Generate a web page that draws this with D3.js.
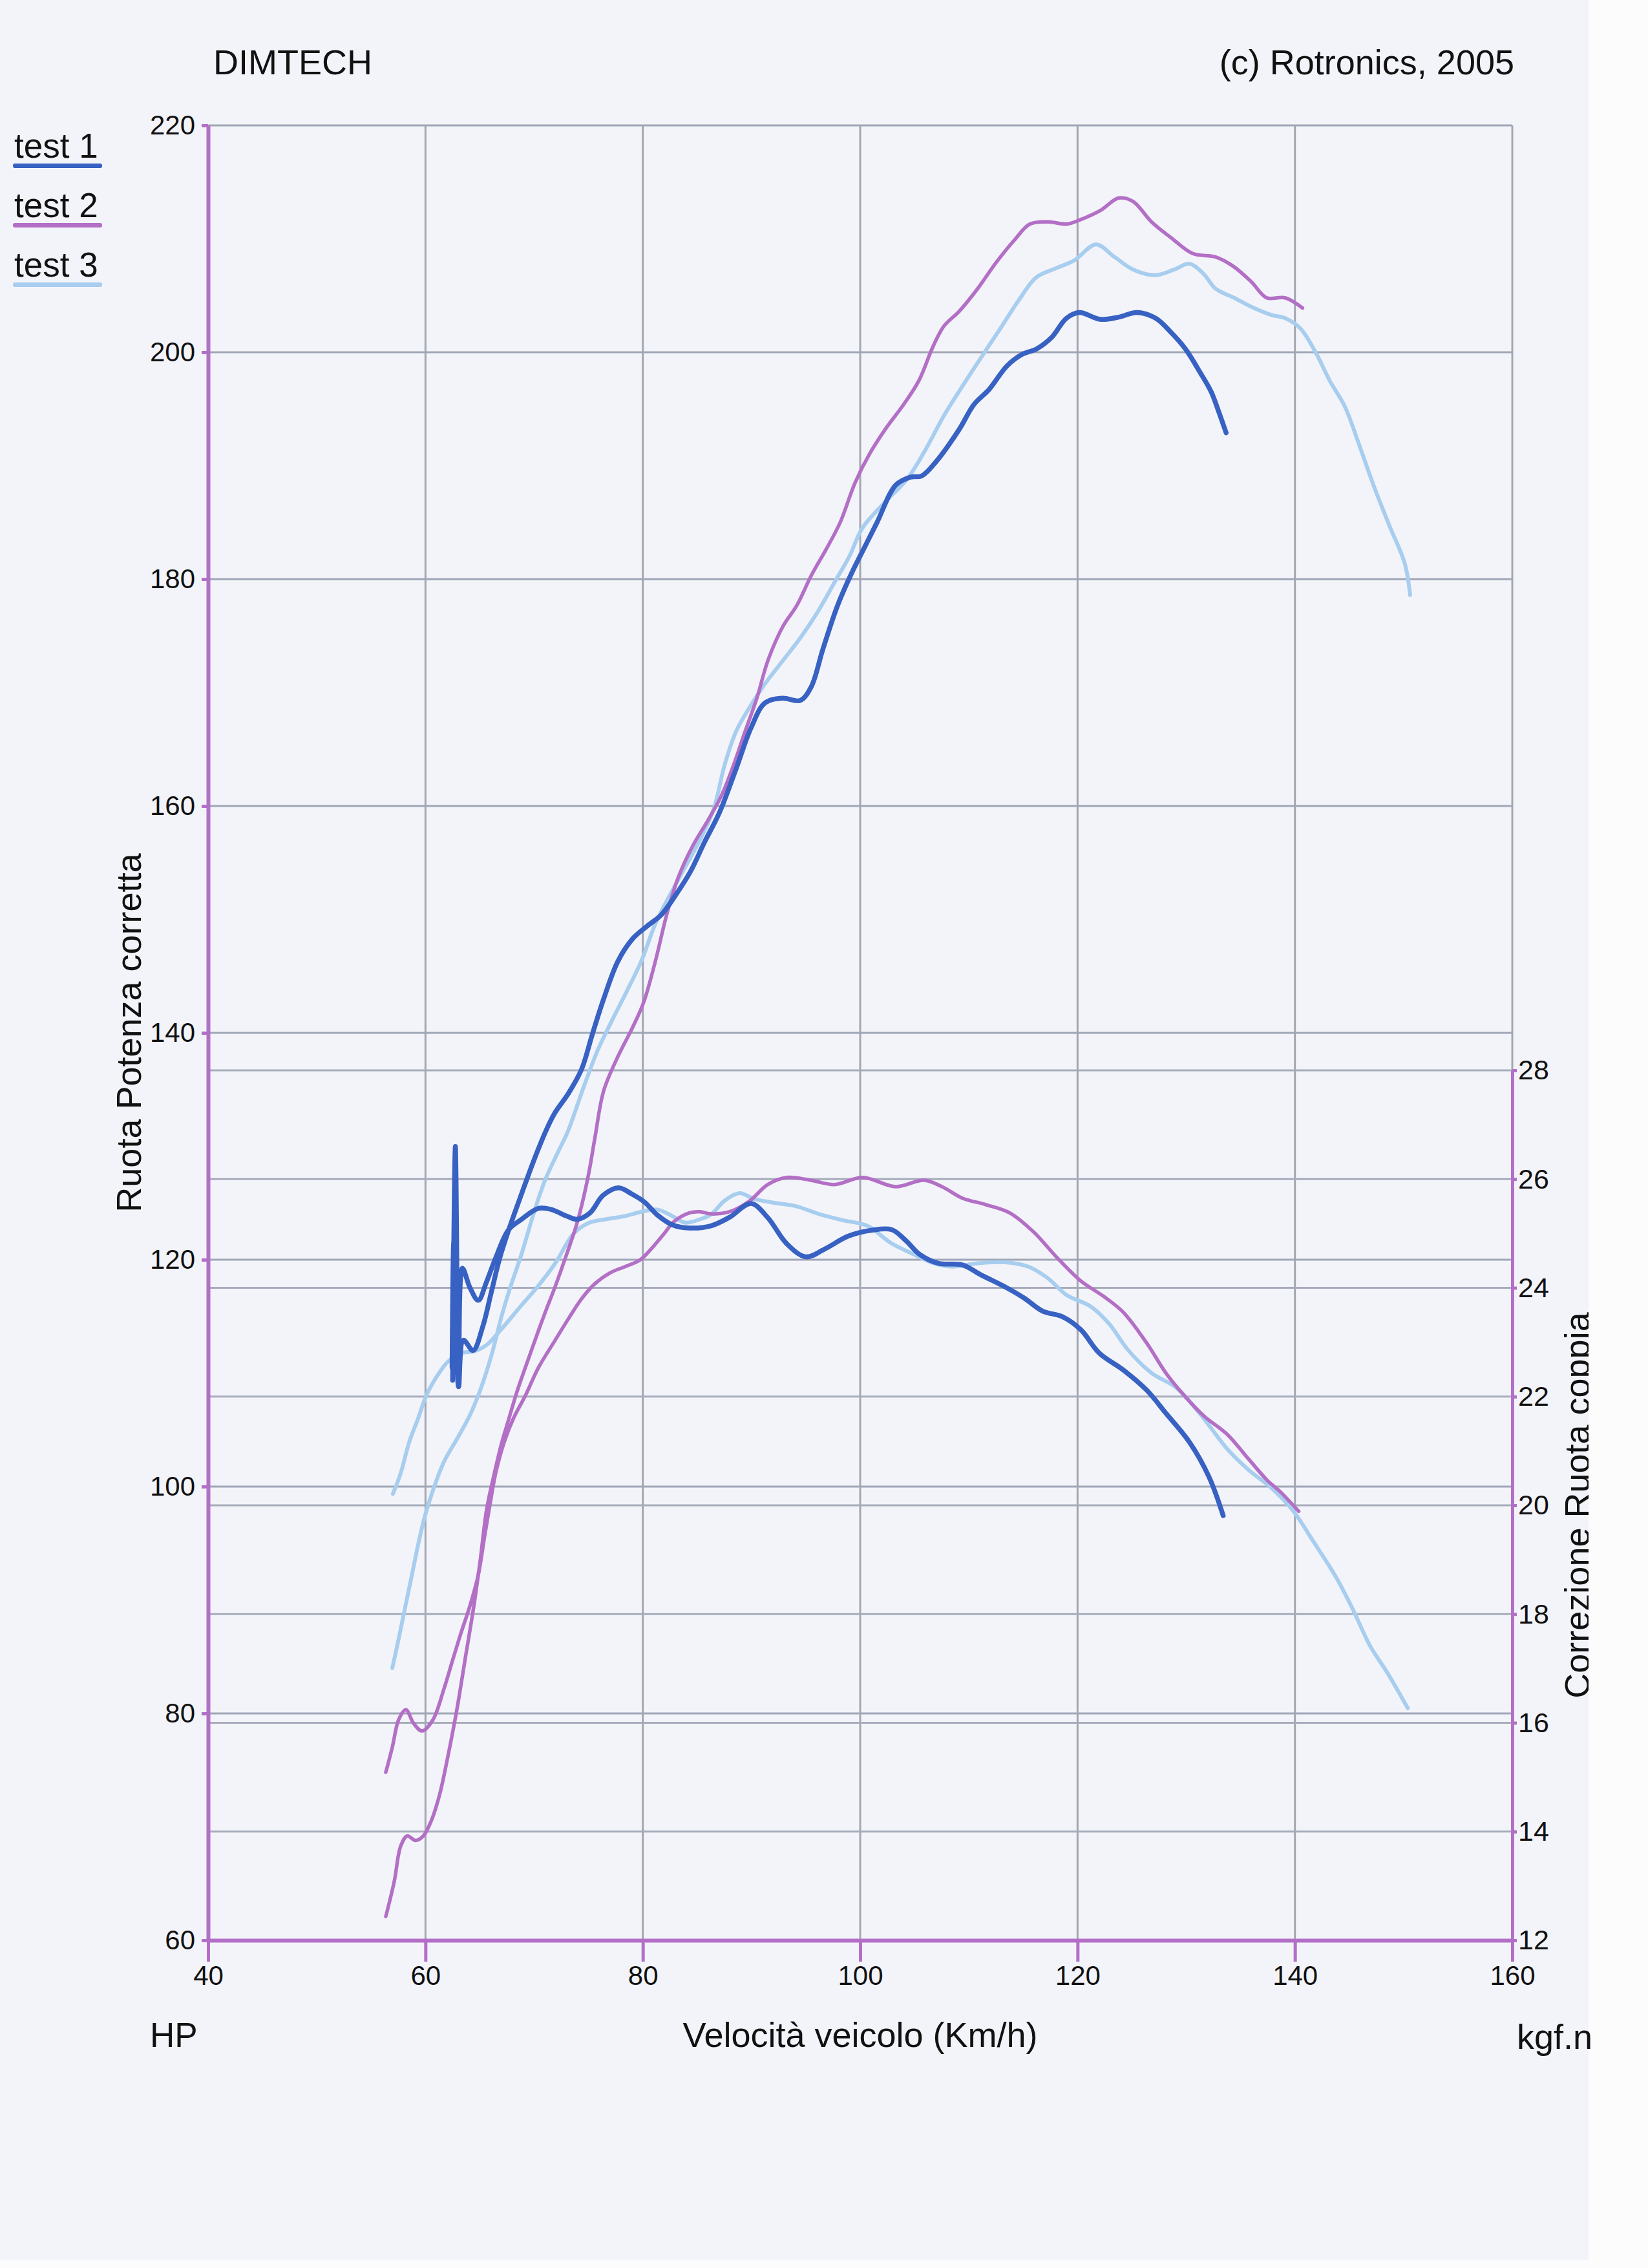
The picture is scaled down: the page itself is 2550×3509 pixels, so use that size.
<!DOCTYPE html>
<html>
<head>
<meta charset="utf-8">
<script src="https://cdn.jsdelivr.net/npm/d3@7"></script>
<style>
  html, body { margin: 0; padding: 0; background: #ffffff; }
  svg { display: block; }
  text { font-family: "Liberation Sans", Arial, sans-serif; fill: #111; }
</style>
</head>
<body>
<script>
// ---------- data ----------
const speedTicks = [40, 60, 80, 100, 120, 140, 160];
const powerTicks = [60, 80, 100, 120, 140, 160, 180, 200, 220];
const torqueTicks = [12, 14, 16, 18, 20, 22, 24, 26, 28];
const seriesNames = ["test 1", "test 2", "test 3"];
const seriesColors = ["#3761c2", "#b36fc6", "#a7cdef"];

// [speed km/h, HP]
const test1Power = [[62.45,110.5],[62.6,121.5],[62.8,115.0],[63.05,108.8],[63.5,112.9],[64.38,112.0],[65.27,114.1],[66.05,117.1],[66.82,120.1],[67.65,122.6],[68.84,125.8],[70.03,128.9],[71.1,131.4],[71.88,132.9],[73.18,134.7],[74.37,136.8],[75.33,139.8],[76.4,143.0],[77.7,146.3],[79.07,148.3],[80.38,149.4],[81.69,150.4],[83.06,152.2],[84.37,154.2],[85.67,156.8],[87.04,159.4],[88.59,163.3],[89.96,166.9],[91.26,169.1],[92.87,169.5],[94.48,169.3],[95.49,170.5],[96.56,173.8],[97.93,177.7],[99.4,180.9],[100.4,182.8],[101.55,185.0],[103.28,188.3],[104.65,189.0],[105.66,189.1],[107.02,190.4],[109.11,193.2],[110.47,195.4],[111.84,196.7],[113.51,198.8],[114.87,199.8],[116.24,200.3],[117.61,201.3],[118.98,203.0],[120.17,203.5],[122.07,202.9],[123.8,203.1],[125.46,203.5],[127.18,203.0],[128.55,201.8],[129.92,200.3],[131.29,198.2],[132.3,196.5],[133.01,194.7],[133.67,192.9]];
const test2Power = [[56.35,62.1],[57.13,65.2],[57.72,68.3],[58.32,69.2],[59.09,68.8],[59.8,69.2],[60.52,70.5],[61.29,72.8],[62.06,76.2],[62.9,80.4],[63.67,84.9],[64.44,89.4],[65.04,93.5],[65.63,98.0],[66.3,101.0],[67.0,103.8],[67.65,105.9],[68.4,108.3],[69.6,111.6],[70.8,114.8],[72.0,117.8],[73.0,120.5],[74.0,123.4],[75.0,127.5],[75.6,130.8],[76.4,134.9],[77.7,137.9],[79.07,140.5],[80.08,142.7],[81.15,146.3],[82.22,150.5],[83.3,153.8],[84.6,156.5],[85.97,158.7],[87.28,161.0],[88.35,163.6],[89.42,166.6],[90.49,169.5],[91.5,172.8],[92.87,175.8],[94.18,177.7],[95.49,180.3],[96.85,182.6],[98.16,185.0],[99.53,188.5],[100.9,191.1],[102.3,193.2],[104.0,195.4],[105.4,197.5],[106.7,200.5],[107.7,202.3],[109.1,203.6],[110.8,205.6],[112.5,207.9],[114.2,209.9],[115.6,211.3],[117.3,211.5],[119.0,211.3],[120.3,211.7],[122.1,212.5],[123.8,213.6],[125.1,213.3],[126.8,211.5],[128.6,210.1],[130.6,208.7],[132.7,208.4],[134.3,207.6],[136.0,206.2],[137.4,204.8],[139.1,204.8],[140.7,203.9]];
const test3Power = [[56.95,84.0],[57.54,86.6],[58.14,89.4],[58.73,92.1],[59.33,94.9],[59.92,97.3],[60.7,99.7],[61.71,102.2],[62.9,104.2],[64.09,106.3],[65.04,108.5],[66.05,111.5],[67.0,115.0],[67.65,117.1],[68.84,120.5],[70.03,124.3],[71.0,127.0],[72.2,129.5],[73.1,131.3],[74.55,135.2],[75.86,138.5],[77.17,141.1],[78.54,143.7],[79.85,146.3],[81.15,149.6],[82.52,152.2],[83.83,154.5],[85.14,156.8],[86.51,159.7],[87.52,163.6],[88.59,166.6],[89.96,168.9],[91.26,170.8],[92.87,172.8],[94.48,174.8],[96.02,177.0],[97.63,179.7],[99.0,182.0],[100.2,184.5],[102.3,186.8],[104.3,188.8],[106.0,191.4],[107.7,194.4],[109.4,197.0],[111.1,199.5],[112.9,202.1],[114.6,204.6],[116.2,206.6],[118.0,207.4],[119.7,208.1],[121.7,209.5],[123.4,208.4],[125.1,207.3],[127.2,206.8],[128.9,207.3],[130.3,207.8],[131.6,206.9],[132.7,205.6],[134.4,204.8],[136.0,204.0],[137.8,203.3],[139.1,203.0],[140.5,202.1],[141.9,200.0],[143.2,197.5],[144.6,195.2],[146.0,191.6],[147.3,188.1],[148.7,184.7],[150.1,181.4],[150.6,178.6]];

// [speed km/h, kgf.m]
const test1Torque = [[62.5,22.3],[62.75,26.6],[63.05,22.6],[63.4,24.36],[64.1,24.0],[64.86,23.77],[65.6,24.1],[66.46,24.55],[67.65,25.07],[68.84,25.26],[70.39,25.46],[71.58,25.44],[73.0,25.32],[73.96,25.26],[75.15,25.38],[76.34,25.7],[77.76,25.84],[78.95,25.73],[80.14,25.58],[81.33,25.34],[82.7,25.16],[84.3,25.1],[86.27,25.14],[88.0,25.3],[89.95,25.55],[91.5,25.29],[93.2,24.82],[95.0,24.57],[96.7,24.71],[98.9,24.95],[101.1,25.06],[102.9,25.07],[104.2,24.87],[105.5,24.61],[107.2,24.45],[109.4,24.42],[111.1,24.24],[113.3,24.02],[115.1,23.81],[116.8,23.57],[118.6,23.47],[120.3,23.23],[122.0,22.8],[124.2,22.49],[126.4,22.11],[128.1,21.7],[130.3,21.16],[132.1,20.52],[133.4,19.81]];
const test2Torque = [[56.35,15.09],[56.95,15.55],[57.54,16.06],[58.2,16.24],[58.91,15.99],[59.69,15.85],[60.7,16.06],[61.71,16.63],[62.48,17.14],[63.25,17.64],[64.09,18.15],[64.86,18.72],[65.45,19.44],[66.05,20.15],[66.46,20.59],[67.24,21.16],[68.1,21.6],[69.2,22.02],[70.39,22.53],[71.82,23.0],[73.18,23.44],[74.37,23.8],[75.56,24.07],[76.93,24.27],[78.36,24.39],[79.73,24.51],[80.74,24.71],[81.93,24.99],[82.88,25.22],[84.31,25.38],[85.26,25.4],[86.27,25.36],[87.99,25.4],[89.78,25.59],[91.5,25.9],[93.23,26.03],[95.43,25.98],[97.63,25.9],[100.24,26.03],[103.28,25.86],[105.89,25.98],[107.62,25.85],[109.4,25.65],[111.55,25.53],[113.74,25.38],[115.94,25.03],[118.09,24.56],[120.28,24.13],[122.49,23.83],[124.21,23.55],[126.41,22.97],[128.14,22.43],[129.86,22.01],[131.64,21.64],[133.8,21.3],[135.7,20.86],[137.5,20.45],[138.6,20.26],[140.35,19.89]];
const test3Torque = [[57.0,20.21],[57.72,20.59],[58.5,21.16],[59.33,21.6],[60.1,22.03],[61.11,22.39],[62.06,22.64],[63.25,22.8],[64.44,22.83],[65.63,22.95],[66.9,23.22],[68.84,23.68],[70.39,24.04],[72.0,24.47],[73.6,24.99],[74.97,25.19],[76.57,25.26],[78.36,25.32],[79.9,25.4],[81.33,25.44],[82.52,25.34],[83.89,25.2],[85.26,25.26],[86.27,25.35],[87.57,25.61],[88.89,25.74],[90.19,25.64],[91.92,25.57],[94.12,25.5],[96.32,25.35],[98.46,25.24],[100.66,25.14],[102.86,24.82],[105.0,24.61],[106.79,24.45],[108.51,24.39],[110.71,24.45],[113.33,24.47],[115.47,24.39],[117.25,24.18],[118.98,23.87],[121.18,23.66],[122.9,23.34],[124.63,22.86],[126.83,22.43],[129.03,22.17],[131.2,21.7],[133.85,21.02],[135.81,20.64],[137.83,20.32],[139.79,19.91],[141.75,19.32],[143.78,18.68],[145.32,18.09],[146.93,17.41],[148.54,16.91],[150.38,16.27]];

// ---------- drawing ----------
const W = 2550, H = 3509;
const axisPurple = "#b36fc8";
const gridColor = "#a3a7b1";

const svg = d3.select("body").append("svg").attr("width", W).attr("height", H);

// paper
svg.append("rect").attr("x", 0).attr("y", 0).attr("width", W).attr("height", H).attr("fill", "#fcfcfd");
svg.append("rect").attr("x", 0).attr("y", 0).attr("width", 2458).attr("height", 3497).attr("fill", "#f3f4f9");

const x = d3.scaleLinear().domain([40, 160]).range([322, 2340]);
const yL = d3.scaleLinear().domain([60, 220]).range([3002, 194]);
const yR = d3.scaleLinear().domain([12, 28]).range([3002, 1656]);

// grid
const grid = svg.append("g");
grid.selectAll(".gv").data(speedTicks).join("line")
  .attr("x1", d => x(d)).attr("x2", d => x(d))
  .attr("y1", yL(220)).attr("y2", yL(60))
  .attr("stroke", gridColor).attr("stroke-width", 3);
grid.selectAll(".gh").data(powerTicks).join("line")
  .attr("x1", x(40)).attr("x2", x(160))
  .attr("y1", d => yL(d)).attr("y2", d => yL(d))
  .attr("stroke", "#9fa6b6").attr("stroke-width", 3);
grid.selectAll(".gr").data(torqueTicks).join("line")
  .attr("x1", x(40)).attr("x2", x(160))
  .attr("y1", d => yR(d)).attr("y2", d => yR(d))
  .attr("stroke", "#a6acba").attr("stroke-width", 3);

// curves
const lineP = d3.line().x(d => x(d[0])).y(d => yL(d[1])).curve(d3.curveCatmullRom.alpha(0.5));
const lineT = d3.line().x(d => x(d[0])).y(d => yR(d[1])).curve(d3.curveCatmullRom.alpha(0.5));

const curves = [
  {data: test3Power, line: lineP, color: seriesColors[2], w: 6},
  {data: test3Torque, line: lineT, color: seriesColors[2], w: 6},
  {data: test2Power, line: lineP, color: seriesColors[1], w: 5.5},
  {data: test2Torque, line: lineT, color: seriesColors[1], w: 5.5},
  {data: test1Power, line: lineP, color: seriesColors[0], w: 7.5},
  {data: test1Torque, line: lineT, color: seriesColors[0], w: 7.5}
];
svg.append("g").selectAll("path").data(curves).join("path")
  .attr("d", c => c.line(c.data))
  .attr("fill", "none")
  .attr("stroke", c => c.color)
  .attr("stroke-width", c => c.w)
  .attr("stroke-linecap", "round")
  .attr("stroke-linejoin", "round");

// axes
function styleAxis(g, fs) {
  g.select(".domain").attr("stroke", axisPurple).attr("stroke-width", 6);
  g.selectAll(".tick line").attr("stroke", axisPurple).attr("stroke-width", 5);
  g.selectAll(".tick text").attr("fill", "#111").attr("font-size", fs)
    .attr("font-family", "'Liberation Sans', Arial, sans-serif");
}
const gB = svg.append("g").attr("transform", `translate(0,${yL(60)})`)
  .call(d3.axisBottom(x).tickValues(speedTicks).tickSize(33).tickSizeOuter(0).tickPadding(6));
styleAxis(gB, 42);

const gL = svg.append("g").attr("transform", `translate(${x(40)},0)`)
  .call(d3.axisLeft(yL).tickValues(powerTicks).tickSize(10).tickSizeOuter(0).tickPadding(10));
styleAxis(gL, 42);

const gR = svg.append("g").attr("transform", `translate(${x(160)},0)`)
  .call(d3.axisRight(yR).tickValues(torqueTicks).tickSize(7).tickSizeOuter(0).tickPadding(2));
styleAxis(gR, 43);
gR.select(".domain").attr("stroke-width", 5);

// titles
svg.append("text").attr("x", 330).attr("y", 115).attr("font-size", 54).text("DIMTECH");
svg.append("text").attr("x", 2343).attr("y", 115).attr("font-size", 54).attr("text-anchor", "end").text("(c) Rotronics, 2005");

// legend
const leg = svg.append("g");
seriesNames.forEach((n, i) => {
  const by = 244 + i * 92;
  leg.append("text").attr("x", 22).attr("y", by).attr("font-size", 53).text(n);
  leg.append("rect").attr("x", 20).attr("y", by + 9).attr("width", 138).attr("height", 7)
    .attr("rx", 3).attr("fill", seriesColors[i]);
});

// axis titles
svg.append("text").attr("transform", `translate(218,${(yL(60) + yL(220)) / 2}) rotate(-90)`)
  .attr("text-anchor", "middle").attr("font-size", 54).text("Ruota Potenza corretta");

svg.append("clipPath").attr("id", "paperClip").append("rect")
  .attr("x", 0).attr("y", 0).attr("width", 2458).attr("height", H);
svg.append("g").attr("clip-path", "url(#paperClip)")
  .append("text")
  .attr("transform", `translate(2459,${(yR(12) + yR(28)) / 2}) rotate(-90)`)
  .attr("text-anchor", "middle").attr("font-size", 54).text("Correzione Ruota coppia");

svg.append("text").attr("x", 232).attr("y", 3167).attr("font-size", 53).text("HP");
svg.append("text").attr("x", (x(40) + x(160)) / 2).attr("y", 3167).attr("text-anchor", "middle")
  .attr("font-size", 54).text("Velocità veicolo (Km/h)");
svg.append("text").attr("x", 2347).attr("y", 3170).attr("font-size", 54).text("kgf.n");
</script>
</body>
</html>
